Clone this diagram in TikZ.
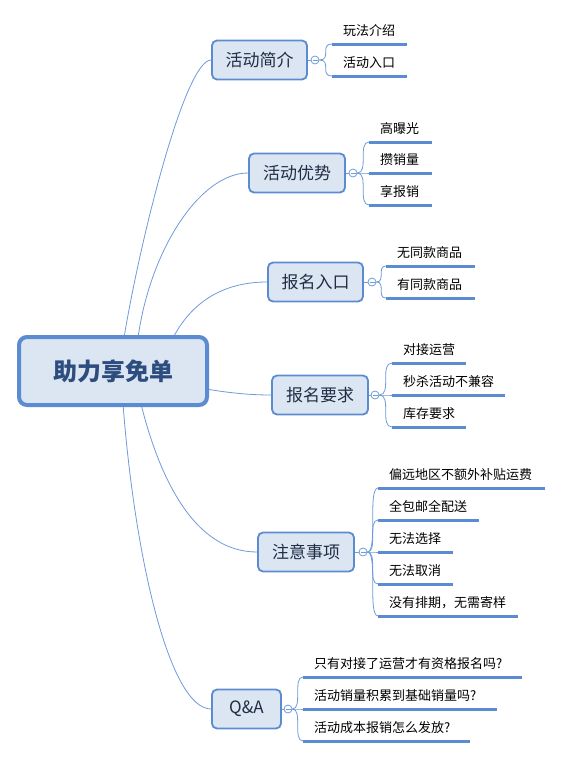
\documentclass[tikz,border=0pt]{standalone}
\usepackage{fontspec}
\setmainfont{Noto Sans CJK SC}
\usetikzlibrary{backgrounds}
\definecolor{bord}{HTML}{5B8BD0}
\definecolor{boxfill}{HTML}{DCE6F2}
\definecolor{linec}{HTML}{6F9BDA}
\definecolor{roottext}{HTML}{2E4D7F}
\definecolor{topictext}{HTML}{1F2D45}
\newcommand\leafitem[6]{%
  \coordinate (#2) at (#3,#5);
  \coordinate (#2e) at (#4,#5);
  \draw[uline] (#2) -- (#2e);
  \node[leaf] (#2t) at ({#3+11},{#5-13.5}) {#6};
  \draw[conn] (#1.east) .. controls (#1.east -| #2) and (#2 -| #1.east) .. (#2);
}
\begin{document}
\begin{tikzpicture}[x=1pt,y=-1pt,
  rootbox/.style={draw=bord, line width=4pt, fill=boxfill, rounded corners=8pt, minimum width=188pt, minimum height=68pt, inner sep=0pt, font=\fontsize{24}{28}\selectfont\bfseries, text=roottext},
  topic/.style={draw=bord, line width=1.8pt, fill=boxfill, rounded corners=5pt, minimum height=39pt, inner sep=0pt, font=\fontsize{17}{20}\selectfont, text=topictext},
  tog/.style={circle, draw=linec, line width=0.8pt, fill=white, minimum size=8pt, inner sep=0pt, path picture={\draw[linec, line width=0.7pt] ([xshift=-2.5pt]path picture bounding box.center) -- ([xshift=2.5pt]path picture bounding box.center);}},
  leaf/.style={anchor=west, inner sep=0pt, font=\fontsize{13}{15}\selectfont, text=black},
  conn/.style={draw=linec, line width=0.8pt},
  uline/.style={draw=bord, line width=3pt},
]
\useasboundingbox (0,0) rectangle (562,758);

% root
\node[rootbox] (root) at (113,371) {助力享免单};

% topics
\node[topic, minimum width=95pt] (b1) at (259.5,60) {活动简介};
\node[topic, minimum width=96pt] (b2) at (297,173) {活动优势};
\node[topic, minimum width=95pt] (b3) at (315.5,282) {报名入口};
\node[topic, minimum width=96pt] (b4) at (320,395) {报名要求};
\node[topic, minimum width=96pt] (b5) at (306,552) {注意事项};
\node[topic, minimum width=69pt] (b6) at (246.5,709) {Q\&A};

% root connectors
\begin{pgfonlayer}{background}
\fill[white] (0,0) rectangle (562,758);
\coordinate (r1) at (124,338);
\coordinate (r2) at (138,338);
\coordinate (r3) at (173,338);
\coordinate (r4) at (206,389);
\coordinate (r5) at (141,404);
\coordinate (r6) at (123,404);
\draw[conn] (r1) .. controls (140,240) and (185,60) .. (b1.west);
\draw[conn] (r2) .. controls (150,250) and (200,173) .. (b2.west);
\draw[conn] (r3) .. controls (190,305) and (220,282) .. (b3.west);
\draw[conn] (r4) .. controls (230,393) and (250,395) .. (b4.west);
\draw[conn] (r5) .. controls (160,480) and (195,552) .. (b5.west);
\draw[conn] (r6) .. controls (135,560) and (170,709) .. (b6.west);
\end{pgfonlayer}

% toggles
\node[tog] (c1) at (315,60) {};
\node[tog] (c2) at (353,173) {};
\node[tog] (c3) at (372,282) {};
\node[tog] (c4) at (375,395) {};
\node[tog] (c5) at (363,552) {};
\node[tog] (c6) at (288,709) {};
\foreach \i in {1,...,6} {\draw[conn] (b\i.east) -- (c\i.west);}

% leaves
\leafitem{c1}{u11}{332}{407}{44}{玩法介绍}
\leafitem{c1}{u12}{332}{407}{76}{活动入口}

\leafitem{c2}{u21}{369}{432}{142}{高曝光}
\leafitem{c2}{u22}{369}{432}{173}{攒销量}
\leafitem{c2}{u23}{369}{432}{205}{享报销}

\leafitem{c3}{u31}{386}{475}{266}{无同款商品}
\leafitem{c3}{u32}{386}{475}{298}{有同款商品}

\leafitem{c4}{u41}{392}{466}{363}{对接运营}
\leafitem{c4}{u42}{392}{505}{395}{秒杀活动不兼容}
\leafitem{c4}{u43}{392}{466}{427}{库存要求}

\leafitem{c5}{u51}{378}{545}{488}{偏远地区不额外补贴运费}
\leafitem{c5}{u52}{378}{479}{520}{全包邮全配送}
\leafitem{c5}{u53}{378}{453}{552}{无法选择}
\leafitem{c5}{u54}{378}{453}{584}{无法取消}
\leafitem{c5}{u55}{378}{518}{616}{没有排期，无需寄样}

\leafitem{c6}{u61}{303}{522}{677}{只有对接了运营才有资格报名吗?}
\leafitem{c6}{u62}{303}{497}{709}{活动销量积累到基础销量吗?}
\leafitem{c6}{u63}{303}{470}{741}{活动成本报销怎么发放?}
\end{tikzpicture}
\end{document}
